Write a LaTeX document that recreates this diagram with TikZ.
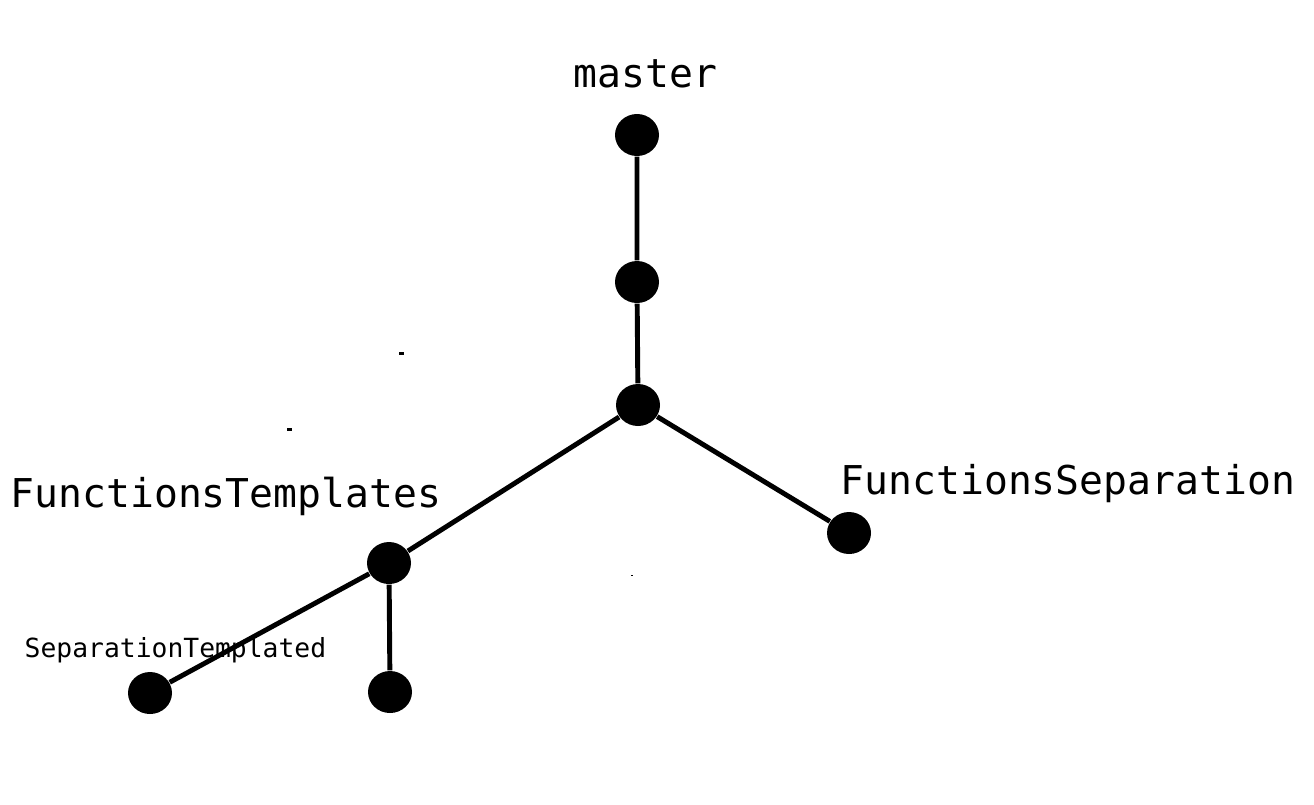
\documentclass[tikz,border=0pt]{standalone}
\usepackage{fontspec}
\setmonofont{DejaVu Sans Mono}
\usetikzlibrary{shapes.geometric}
\tikzset{
  commit/.style={ellipse, fill=black, minimum width=0.44cm, minimum height=0.42cm, inner sep=0pt},
  branch/.style={line width=1.4pt},
  branchlabel/.style={anchor=base west, inner sep=0pt, font=\ttfamily\fontsize{11.3}{13}\selectfont},
  smalllabel/.style={anchor=base west, inner sep=0pt, font=\ttfamily\fontsize{7.5}{9}\selectfont}
}
\begin{document}
\begin{tikzpicture}
    \useasboundingbox (0,0) rectangle (13.14,8.04);

    % Nodos
    \node[commit] (m1) at (6.37,6.69) {};
    \node[commit] (m2) at (6.37,5.22) {};
    \node[commit] (m3) at (6.38,3.99) {};
    \node[commit] (fs) at (8.49,2.71) {};
    \node[commit] (ft) at (3.89,2.41) {};
    \node[commit] (st) at (1.50,1.11) {};
    \node[commit] (ft2) at (3.90,1.12) {};

    % Ramas
    \draw[branch] (m1) -- (m2) -- (m3);
    \draw[branch] (m3) -- (ft);
    \draw[branch] (m3) -- (fs);
    \draw[branch] (ft) -- (st);
    \draw[branch] (ft) -- (ft2);

    % Etiquetas
    \node[branchlabel] (lmaster) at (5.73,7.17) {master};
    \node[branchlabel] (lft) at (0.10,2.97) {FunctionsTemplates};
    \node[branchlabel] (lfs) at (8.40,3.10) {FunctionsSeparation};
    \node[smalllabel] (lst) at (0.24,1.47) {SeparationTemplated};

    % Puntos sueltos
    \fill (3.99,4.49) rectangle (4.04,4.52);
    \fill (2.87,3.73) rectangle (2.92,3.76);
    \fill (6.31,2.28) rectangle (6.33,2.29);
\end{tikzpicture}
\end{document}
